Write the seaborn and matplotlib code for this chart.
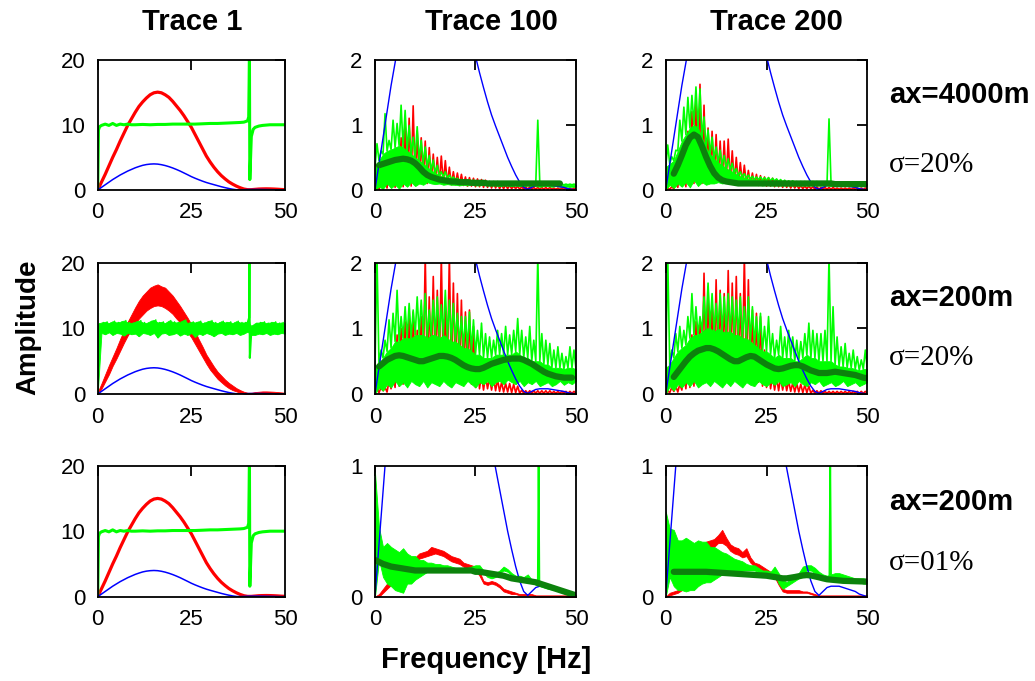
import numpy as np
import matplotlib
matplotlib.use("Agg")
import matplotlib.pyplot as plt
import seaborn as sns

# frequency grid of the spectra (Hz)
freq = list(range(51))

# source spectrum (blue), same in every panel
blue = [0, 0.4, 0.8, 1.2, 1.6, 1.95, 2.3, 2.6, 2.9, 3.15, 3.4, 3.6, 3.78, 3.9, 3.97, 4.0,
        3.97, 3.88, 3.75, 3.58, 3.38, 3.15, 2.9, 2.62, 2.34, 2.05, 1.8, 1.57, 1.35, 1.15, 0.98,
        0.82, 0.66, 0.5, 0.36, 0.23, 0.12, 0.04, 0.01, 0.04, 0.07, 0.08, 0.08, 0.08, 0.07,
        0.06, 0.05, 0.04, 0.02, 0.01, 0]

# ---- Trace 1 ----
t1_red = [0, 1.2, 2.4, 3.7, 5.0, 6.2, 7.5, 8.7, 9.9, 10.9, 11.9, 12.8, 13.5, 14.1, 14.6, 14.9,
          15.0, 14.9, 14.6, 14.2, 13.6, 12.9, 12.2, 11.4, 10.5, 9.6, 8.5, 7.4, 6.3, 5.2, 4.3,
          3.5, 2.8, 2.2, 1.7, 1.25, 0.9, 0.6, 0.35, 0.15, 0.05, 0.05, 0.1, 0.15, 0.17, 0.18,
          0.17, 0.15, 0.12, 0.08, 0.05]
t1_green_f = [0, 0.2, 0.5, 1, 2, 3, 4, 5, 6, 7, 8, 9, 10, 12, 14, 16, 18, 20, 22, 24, 26, 28,
              30, 32, 34, 36, 38, 39, 40, 40.3, 40.5, 40.6, 41, 41.5, 42, 43, 44, 46, 48, 50]
t1_green = [0, 9.2, 9.7, 9.9, 10.1, 9.9, 10.2, 9.9, 10.1, 10.0, 10.1, 10.0, 10.0, 10.05, 10.0,
            10.05, 10.05, 10.1, 10.1, 10.1, 10.1, 10.15, 10.2, 10.2, 10.25, 10.3, 10.35, 10.4,
            10.6, 11.2, 20.5, 1.6, 8.2, 9.3, 9.6, 9.8, 9.9, 10.0, 10.0, 10.0]
t1_r2_red_hi = [0.3, 1.6, 3.0, 4.4, 5.7, 7.0, 8.4, 9.7, 11.0, 12.1, 13.2, 14.2, 15.0, 15.6, 16.2,
                16.5, 16.7, 16.4, 16.2, 15.6, 15.0, 14.2, 13.4, 12.5, 11.6, 10.6, 9.5, 8.3, 7.2,
                6.0, 5.1, 4.2, 3.4, 2.8, 2.2, 1.7, 1.3, 0.9, 0.6, 0.35, 0.2, 0.2, 0.3, 0.35, 0.4,
                0.4, 0.38, 0.35, 0.3, 0.25, 0.2]
t1_r2_red_lo = [0, 0.8, 1.9, 3.0, 4.3, 5.4, 6.6, 7.8, 8.9, 9.8, 10.7, 11.5, 12.1, 12.7, 13.1,
                13.4, 13.5, 13.4, 13.1, 12.7, 12.2, 11.5, 10.9, 10.2, 9.4, 8.6, 7.6, 6.6, 5.6,
                4.6, 3.7, 3.0, 2.3, 1.8, 1.3, 0.9, 0.6, 0.4, 0.2, 0.05, 0, 0, 0.02, 0.05, 0.05,
                0.05, 0.05, 0.04, 0.03, 0.02, 0.01]
t1_r2_green_hi = [10.7, 10.9, 11.0, 10.8, 11.1, 10.9, 11.0, 11.2, 10.9, 10.8, 11.0, 11.2, 10.9,
                  10.8, 11.1, 11.3, 10.9, 11.0, 10.8, 11.2, 11.0, 10.9, 11.0, 11.3, 10.8, 11.0,
                  10.9, 11.1, 10.8, 11.0, 11.2, 10.9, 10.8, 11.1, 10.9, 11.0, 10.8, 11.1, 10.9,
                  10.9, 11.0, 10.4, 10.8, 10.9, 11.0, 10.8, 10.9, 11.0, 10.8, 10.9, 10.8]
t1_r2_green_lo = [0, 9.3, 9.1, 9.4, 9.0, 9.3, 9.2, 8.9, 9.3, 9.1, 9.2, 8.8, 9.3, 9.2, 9.0, 9.3,
                  8.6, 9.2, 9.3, 9.0, 9.1, 9.3, 8.9, 9.2, 9.0, 9.3, 8.7, 9.2, 9.0, 9.3, 9.1, 8.8,
                  9.2, 9.3, 9.0, 9.2, 9.1, 9.3, 9.0, 9.2, 9.5, 9.0, 9.0, 9.2, 9.1, 9.3, 9.0, 9.2,
                  9.1, 9.3, 9.2]
# narrow artefact spike near 40.5 Hz
t1_r2_spike_f = [40.0, 40.4, 40.5, 40.6, 41.0]
t1_r2_spike = [10.8, 11.6, 20.5, 5.5, 9.6]

# ---- Trace 100, ax=4000m, sigma=20% ----
a_green_hi = [0.71, 0.6, 1.17, 0.76, 1.07, 1.02, 1.3, 1.22, 0.99, 0.81, 0.97, 0.76, 0.66, 0.53,
              0.46, 0.38, 0.28, 0.28, 0.23, 0.2, 0.18, 0.16, 0.15, 0.15, 0.15, 0.14, 0.14, 0.13,
              0.13, 0.13, 0.13, 0.12, 0.12, 0.12, 0.12, 0.11, 0.11, 0.11, 0.11, 0.11, 1.07, 0.11,
              0.1, 0.1, 0.1, 0.1, 0.09, 0.09, 0.09, 0.09, 0.09]
a_green_core = [0.35, 0.45, 0.55, 0.6, 0.62, 0.65, 0.68, 0.65, 0.6, 0.55, 0.5, 0.45, 0.4, 0.35,
                0.3, 0.26, 0.22, 0.2, 0.18, 0.16, 0.15, 0.14, 0.13, 0.13, 0.12, 0.12, 0.12, 0.12,
                0.11, 0.11, 0.11, 0.11, 0.11, 0.1, 0.1, 0.1, 0.1, 0.1, 0.1, 0.1, 0.1, 0.1, 0.09,
                0.09, 0.09, 0.09, 0.08, 0.08, 0.08, 0.08, 0.08]
a_green_lo = [0, 0.05, 0.02, 0.1, 0.03, 0.08, 0.02, 0.1, 0.05, 0.12, 0.06, 0.1, 0.08, 0.12, 0.1,
              0.09, 0.1, 0.08, 0.09, 0.08, 0.08, 0.07, 0.08, 0.07, 0.08, 0.07, 0.07, 0.08, 0.07,
              0.07, 0.07, 0.06, 0.07, 0.07, 0.06, 0.07, 0.06, 0.06, 0.07, 0.06, 0.06, 0.05, 0.06,
              0.06, 0.05, 0.06, 0.05, 0.05, 0.05, 0.05, 0.05]
a_red_hi = [0.05, 0.1, 0.15, 0.3, 0.5, 0.6, 0.8, 1.0, 1.1, 1.29, 0.9, 0.8, 0.75, 0.65, 0.55, 0.5,
            0.52, 0.45, 0.35, 0.28, 0.26, 0.24, 0.2, 0.19, 0.18, 0.17, 0.16, 0.15, 0.13, 0.12,
            0.1, 0.08, 0.08, 0.07, 0.06, 0.06, 0.05, 0.05, 0.05, 0.04, 0.04, 0.04, 0.04, 0.04,
            0.03, 0.03, 0.03, 0.03, 0.03, 0.03, 0.03]
a_red_lo = [0, 0.01, 0.02, 0.03, 0.05, 0.04, 0.06, 0.05, 0.08, 0.06, 0.1, 0.1, 0.12, 0.1, 0.12,
            0.11, 0.1, 0.1, 0.09, 0.08, 0.08, 0.07, 0.07, 0.06, 0.06, 0.05, 0.05, 0.04, 0.04,
            0.03, 0.03, 0.02, 0.02, 0.02, 0.02, 0.02, 0.01, 0.01, 0.01, 0.01, 0.01, 0.01, 0.01,
            0.01, 0.01, 0.01, 0.01, 0.01, 0.01, 0.01, 0.01]
a_smooth_f = list(range(1, 47))
a_smooth = [0.38, 0.4, 0.42, 0.44, 0.46, 0.47, 0.48, 0.47, 0.45, 0.41, 0.35, 0.28, 0.23, 0.2,
            0.18, 0.16, 0.15, 0.14, 0.13, 0.13, 0.12, 0.12, 0.12, 0.11, 0.11, 0.11, 0.11, 0.1,
            0.1, 0.1, 0.1, 0.1, 0.1, 0.1, 0.1, 0.1, 0.1, 0.1, 0.1, 0.1, 0.1, 0.1, 0.1, 0.1, 0.1,
            0.1]

# ---- Trace 200, ax=4000m, sigma=20% ----
b_green_hi = [0.69, 0.51, 0.61, 1.07, 1.27, 1.42, 1.45, 1.58, 1.55, 1.12, 0.92, 0.81, 0.66, 0.61,
              0.53, 0.48, 0.41, 0.33, 0.28, 0.25, 0.23, 0.21, 0.2, 0.2, 0.19, 0.19, 0.18, 0.17,
              0.16, 0.15, 0.14, 0.14, 0.13, 0.13, 0.13, 0.13, 0.13, 0.13, 0.12, 0.12, 1.09, 0.12,
              0.12, 0.11, 0.11, 0.11, 0.11, 0.11, 0.11, 0.11, 0.11]
b_green_core = [0.35, 0.4, 0.45, 0.6, 0.75, 0.85, 0.95, 1.0, 0.95, 0.8, 0.65, 0.55, 0.48, 0.42,
                0.38, 0.33, 0.3, 0.26, 0.22, 0.2, 0.18, 0.17, 0.16, 0.16, 0.15, 0.15, 0.14, 0.14,
                0.13, 0.12, 0.12, 0.12, 0.11, 0.11, 0.11, 0.11, 0.11, 0.11, 0.1, 0.1, 0.1, 0.1,
                0.1, 0.1, 0.1, 0.1, 0.1, 0.1, 0.1, 0.1, 0.1]
b_green_lo = [0, 0.08, 0.03, 0.1, 0.05, 0.12, 0.04, 0.15, 0.06, 0.12, 0.08, 0.1, 0.1, 0.12, 0.1,
              0.11, 0.1, 0.1, 0.09, 0.09, 0.08, 0.08, 0.08, 0.08, 0.07, 0.08, 0.07, 0.07, 0.07,
              0.07, 0.07, 0.07, 0.07, 0.07, 0.07, 0.07, 0.07, 0.07, 0.07, 0.07, 0.07, 0.06, 0.07,
              0.07, 0.07, 0.07, 0.07, 0.07, 0.07, 0.07, 0.07]
b_red_hi = [0.03, 0.05, 0.1, 0.3, 0.6, 0.9, 1.2, 1.4, 1.62, 1.3, 0.95, 0.9, 0.85, 0.75, 0.75,
            0.78, 0.6, 0.5, 0.42, 0.38, 0.3, 0.26, 0.24, 0.22, 0.2, 0.19, 0.18, 0.16, 0.14, 0.12,
            0.1, 0.09, 0.08, 0.07, 0.06, 0.06, 0.05, 0.05, 0.04, 0.04, 0.04, 0.04, 0.03, 0.03,
            0.03, 0.03, 0.03, 0.03, 0.03, 0.03, 0.03]
b_red_lo = [0, 0.01, 0.02, 0.04, 0.06, 0.05, 0.08, 0.1, 0.12, 0.1, 0.12, 0.13, 0.12, 0.14, 0.12,
            0.13, 0.12, 0.11, 0.1, 0.1, 0.09, 0.08, 0.08, 0.07, 0.07, 0.06, 0.06, 0.05, 0.05,
            0.04, 0.04, 0.03, 0.03, 0.02, 0.02, 0.02, 0.02, 0.01, 0.01, 0.01, 0.01, 0.01, 0.01,
            0.01, 0.01, 0.01, 0.01, 0.01, 0.01, 0.01, 0.01]
b_smooth_f = list(range(2, 51))
b_smooth = [0.25, 0.38, 0.53, 0.69, 0.8, 0.85, 0.81, 0.67, 0.51, 0.37, 0.26, 0.19, 0.15, 0.13,
            0.12, 0.11, 0.1, 0.1, 0.1, 0.1, 0.1, 0.1, 0.1, 0.1, 0.1, 0.1, 0.1, 0.1, 0.1, 0.1,
            0.1, 0.1, 0.1, 0.1, 0.1, 0.1, 0.1, 0.1, 0.1, 0.1, 0.09, 0.09, 0.09, 0.09, 0.09,
            0.09, 0.09, 0.09, 0.09]

# ---- Trace 100, ax=200m, sigma=20% ----
c_green_hi = [2.1, 0.67, 0.82, 1.13, 1.23, 1.58, 1.18, 1.33, 1.38, 1.28, 1.48, 1.43, 1.53, 1.28,
              1.43, 1.48, 1.36, 1.58, 1.43, 1.38, 1.23, 1.18, 1.18, 1.25, 1.13, 0.97, 1.08, 0.92,
              0.87, 0.82, 0.97, 0.92, 1.03, 0.9, 0.97, 1.15, 0.97, 0.87, 1.03, 0.82, 2.1, 0.92,
              0.82, 0.77, 0.67, 0.72, 0.62, 0.57, 0.72, 0.67, 0.62]
c_green_core = [0.4, 0.45, 0.55, 0.65, 0.7, 0.8, 0.8, 0.85, 0.85, 0.85, 0.9, 0.9, 0.9, 0.85, 0.9,
                0.9, 0.85, 0.9, 0.85, 0.8, 0.8, 0.75, 0.7, 0.7, 0.65, 0.6, 0.6, 0.55, 0.55, 0.55,
                0.6, 0.6, 0.6, 0.6, 0.6, 0.65, 0.6, 0.55, 0.55, 0.5, 0.5, 0.5, 0.45, 0.45, 0.4,
                0.4, 0.4, 0.38, 0.4, 0.4, 0.38]
c_green_lo = [0, 0.1, 0.05, 0.15, 0.1, 0.2, 0.12, 0.18, 0.1, 0.2, 0.15, 0.12, 0.2, 0.1, 0.18,
              0.15, 0.12, 0.2, 0.14, 0.1, 0.18, 0.15, 0.12, 0.2, 0.15, 0.1, 0.18, 0.15, 0.2,
              0.12, 0.18, 0.2, 0.15, 0.22, 0.18, 0.15, 0.2, 0.12, 0.18, 0.15, 0.2, 0.12, 0.15,
              0.18, 0.12, 0.15, 0.2, 0.14, 0.18, 0.15, 0.2]
c_red_hi = [0.1, 0.1, 0.1, 0.2, 0.3, 0.9, 1.0, 1.1, 1.25, 1.25, 0.97, 1.18, 2.1, 1.48, 1.79, 1.58,
            2.1, 1.33, 2.1, 1.69, 1.53, 1.43, 1.25, 1.28, 1.03, 0.52, 0.3, 0.28, 0.25, 0.25,
            0.22, 0.18, 0.16, 0.16, 0.15, 0.12, 0.06, 0.05, 0.05, 0.05, 0.05, 0.05, 0.05, 0.05,
            0.04, 0.04, 0.04, 0.04, 0.04, 0.04, 0.04]
c_red_lo = [0, 0.02, 0.05, 0.03, 0.08, 0.1, 0.12, 0.15, 0.2, 0.25, 0.2, 0.3, 0.25, 0.3, 0.35,
            0.3, 0.3, 0.35, 0.3, 0.25, 0.3, 0.25, 0.2, 0.2, 0.15, 0.1, 0.08, 0.06, 0.08, 0.06,
            0.05, 0.04, 0.03, 0.03, 0.02, 0.02, 0.01, 0.01, 0.01, 0.01, 0.01, 0.01, 0.01, 0.01,
            0.01, 0.01, 0.01, 0.01, 0.01, 0.01, 0.01]
c_smooth_f = list(range(1, 50))
c_smooth = [0.42, 0.47, 0.52, 0.55, 0.58, 0.59, 0.58, 0.56, 0.54, 0.52, 0.5, 0.5, 0.52, 0.54,
            0.56, 0.58, 0.58, 0.57, 0.55, 0.52, 0.48, 0.44, 0.41, 0.39, 0.38, 0.38, 0.4, 0.43,
            0.46, 0.48, 0.5, 0.52, 0.53, 0.54, 0.54, 0.54, 0.52, 0.49, 0.46, 0.42, 0.38, 0.34,
            0.31, 0.29, 0.27, 0.26, 0.25, 0.25, 0.25]

# ---- Trace 200, ax=200m, sigma=20% ----
d_green_hi = [2.1, 0.67, 0.92, 1.03, 0.97, 1.18, 1.53, 1.33, 1.18, 1.48, 1.69, 1.53, 1.38, 1.53,
              1.48, 1.53, 1.48, 1.43, 1.48, 1.33, 1.48, 1.33, 1.18, 1.23, 1.03, 1.18, 0.92, 0.82,
              1.03, 0.87, 0.97, 0.87, 0.82, 0.8, 0.92, 1.08, 0.97, 0.92, 0.92, 0.97, 2.1, 1.33,
              0.87, 0.72, 0.77, 0.62, 0.67, 0.57, 0.52, 0.67, 0.62]
d_green_core = [0.4, 0.45, 0.55, 0.65, 0.7, 0.75, 0.85, 0.9, 0.9, 0.95, 1.0, 1.0, 0.95, 1.0, 0.95,
                0.95, 0.95, 0.9, 0.9, 0.85, 0.85, 0.8, 0.75, 0.7, 0.65, 0.65, 0.6, 0.55, 0.6,
                0.55, 0.55, 0.55, 0.5, 0.5, 0.55, 0.6, 0.55, 0.55, 0.5, 0.5, 0.5, 0.5, 0.45, 0.42,
                0.42, 0.4, 0.4, 0.38, 0.36, 0.38, 0.38]
d_green_lo = [0, 0.12, 0.05, 0.15, 0.1, 0.18, 0.12, 0.2, 0.1, 0.15, 0.18, 0.12, 0.2, 0.15, 0.1,
              0.18, 0.12, 0.2, 0.15, 0.1, 0.18, 0.14, 0.12, 0.2, 0.15, 0.12, 0.18, 0.14, 0.2,
              0.12, 0.15, 0.18, 0.12, 0.2, 0.15, 0.12, 0.18, 0.15, 0.2, 0.12, 0.15, 0.18, 0.12,
              0.15, 0.2, 0.12, 0.15, 0.18, 0.12, 0.15, 0.18]
d_red_hi = [0.05, 0.1, 0.12, 0.15, 0.3, 0.5, 0.9, 1.1, 1.15, 1.84, 1.63, 1.43, 1.74, 1.58, 1.53,
            1.88, 1.69, 1.79, 1.53, 2.1, 1.74, 1.28, 1.23, 1.18, 0.67, 0.42, 0.28, 0.26, 0.25,
            0.24, 0.2, 0.17, 0.16, 0.15, 0.14, 0.12, 0.06, 0.05, 0.05, 0.04, 0.04, 0.04, 0.04,
            0.04, 0.04, 0.04, 0.04, 0.04, 0.04, 0.04, 0.04]
d_red_lo = [0, 0.02, 0.04, 0.03, 0.06, 0.08, 0.1, 0.12, 0.15, 0.2, 0.25, 0.3, 0.28, 0.32, 0.3,
            0.35, 0.3, 0.32, 0.28, 0.3, 0.25, 0.22, 0.2, 0.18, 0.12, 0.1, 0.08, 0.06, 0.05, 0.06,
            0.05, 0.04, 0.03, 0.03, 0.02, 0.02, 0.01, 0.01, 0.01, 0.01, 0.01, 0.01, 0.01, 0.01,
            0.01, 0.01, 0.01, 0.01, 0.01, 0.01, 0.01]
d_smooth_f = list(range(2, 51))
d_smooth = [0.26, 0.34, 0.42, 0.5, 0.57, 0.62, 0.66, 0.68, 0.7, 0.7, 0.68, 0.65, 0.61, 0.57, 0.53,
            0.5, 0.5, 0.53, 0.56, 0.58, 0.57, 0.53, 0.49, 0.45, 0.42, 0.39, 0.38, 0.39, 0.41,
            0.43, 0.44, 0.44, 0.42, 0.39, 0.36, 0.34, 0.32, 0.32, 0.32, 0.33, 0.34, 0.33, 0.32,
            0.31, 0.3, 0.29, 0.27, 0.25, 0.24]

# ---- Trace 100, ax=200m, sigma=01% ----
e_green_hi = [0.95, 0.53, 0.38, 0.41, 0.38, 0.36, 0.34, 0.37, 0.33, 0.31, 0.31, 0.28, 0.28, 0.26,
              0.26, 0.25, 0.25, 0.24, 0.24, 0.23, 0.22, 0.22, 0.22, 0.22, 0.23, 0.24, 0.24, 0.2,
              0.17, 0.16, 0.18, 0.2, 0.23, 0.21, 0.18, 0.16, 0.16, 0.15, 0.17, 0.13, 0.1, 0.09,
              0.08, 0.07, 0.065, 0.06, 0.05, 0.04, 0.03, 0.02, 0.015]
e_green_lo = [0, 0.28, 0.15, 0.1, 0.08, 0.05, 0.04, 0.03, 0.1, 0.1, 0.13, 0.15, 0.17, 0.19, 0.2,
              0.2, 0.2, 0.2, 0.2, 0.2, 0.2, 0.2, 0.2, 0.2, 0.21, 0.22, 0.21, 0.18, 0.15, 0.14,
              0.15, 0.18, 0.2, 0.19, 0.16, 0.14, 0.14, 0.13, 0.14, 0.11, 0.09, 0.08, 0.07, 0.06,
              0.055, 0.05, 0.04, 0.03, 0.02, 0.015, 0.01]
e_spike_f = [40.5, 40.7, 40.9]
e_spike = [0.1, 1.05, 0.09]
e_red_hi = [0, 0.02, 0.06, 0.1, 0.13, 0.16, 0.19, 0.22, 0.26, 0.29, 0.3, 0.33, 0.34, 0.35, 0.38,
            0.37, 0.36, 0.35, 0.33, 0.31, 0.3, 0.29, 0.26, 0.25, 0.24, 0.23, 0.19, 0.12, 0.11,
            0.12, 0.11, 0.09, 0.06, 0.05, 0.04, 0.03, 0.02, 0.02, 0.02, 0.02, 0.01, 0.01, 0.01,
            0.01, 0.01, 0.01, 0.01, 0.01, 0.01, 0.01, 0.01]
e_red_lo = [0, 0.0, 0.03, 0.06, 0.09, 0.12, 0.15, 0.18, 0.22, 0.25, 0.26, 0.29, 0.3, 0.31, 0.32,
            0.33, 0.32, 0.31, 0.29, 0.27, 0.26, 0.25, 0.23, 0.21, 0.2, 0.2, 0.16, 0.1, 0.09, 0.1,
            0.09, 0.07, 0.04, 0.03, 0.02, 0.02, 0.01, 0.01, 0.01, 0.01, 0.0, 0.0, 0.0, 0.0, 0.0,
            0.0, 0.0, 0.0, 0.0, 0.0, 0.0]
e_smooth_f = list(range(0, 51))
e_smooth = [0.28, 0.265, 0.25, 0.24, 0.23, 0.225, 0.22, 0.215, 0.21, 0.205, 0.2, 0.2, 0.2, 0.2,
            0.2, 0.2, 0.2, 0.2, 0.2, 0.2, 0.2, 0.2, 0.2, 0.2, 0.2, 0.19, 0.19, 0.185, 0.18,
            0.175, 0.17, 0.165, 0.16, 0.15, 0.14, 0.135, 0.13, 0.125, 0.12, 0.115, 0.11, 0.1,
            0.09, 0.08, 0.07, 0.06, 0.05, 0.04, 0.03, 0.02, 0.01]

# ---- Trace 200, ax=200m, sigma=01% ----
f_green_hi = [0.65, 0.52, 0.51, 0.43, 0.43, 0.45, 0.43, 0.41, 0.43, 0.42, 0.42, 0.38, 0.38, 0.36,
              0.34, 0.33, 0.31, 0.29, 0.28, 0.27, 0.25, 0.24, 0.24, 0.22, 0.2, 0.2, 0.19, 0.23,
              0.18, 0.13, 0.11, 0.14, 0.15, 0.18, 0.23, 0.24, 0.24, 0.22, 0.19, 0.17, 0.16, 0.17,
              0.18, 0.18, 0.17, 0.16, 0.15, 0.14, 0.14, 0.14, 0.13]
f_green_lo = [0, 0.15, 0.08, 0.05, 0.05, 0.04, 0.05, 0.05, 0.08, 0.1, 0.11, 0.11, 0.13, 0.15,
              0.17, 0.18, 0.19, 0.2, 0.2, 0.2, 0.2, 0.2, 0.2, 0.19, 0.18, 0.17, 0.16, 0.18, 0.1,
              0.06, 0.08, 0.1, 0.12, 0.14, 0.18, 0.2, 0.2, 0.18, 0.16, 0.14, 0.13, 0.14, 0.15,
              0.14, 0.14, 0.13, 0.12, 0.12, 0.11, 0.1, 0.1]
f_spike_f = [40.6, 40.8, 41.0]
f_spike = [0.16, 1.05, 0.17]
f_red_hi = [0, 0.03, 0.04, 0.05, 0.08, 0.13, 0.18, 0.25, 0.31, 0.36, 0.42, 0.43, 0.44, 0.47, 0.51,
            0.45, 0.4, 0.38, 0.37, 0.34, 0.37, 0.3, 0.26, 0.25, 0.23, 0.21, 0.19, 0.18, 0.12,
            0.06, 0.05, 0.05, 0.05, 0.05, 0.04, 0.04, 0.03, 0.02, 0.01, 0.01, 0.01, 0.01, 0.01,
            0.01, 0.01, 0.01, 0.01, 0.01, 0.01, 0.01, 0.01]
f_red_lo = [0, 0.01, 0.02, 0.03, 0.05, 0.09, 0.14, 0.2, 0.26, 0.31, 0.36, 0.37, 0.38, 0.41, 0.41,
            0.39, 0.35, 0.33, 0.32, 0.3, 0.31, 0.26, 0.23, 0.22, 0.2, 0.18, 0.16, 0.15, 0.09,
            0.04, 0.03, 0.03, 0.03, 0.03, 0.03, 0.03, 0.02, 0.01, 0.0, 0.0, 0.0, 0.0, 0.0, 0.0,
            0.0, 0.0, 0.0, 0.0, 0.0, 0.0, 0.0]
f_smooth_f = list(range(2, 51))
f_smooth = [0.19, 0.19, 0.19, 0.19, 0.19, 0.19, 0.19, 0.19, 0.19, 0.188, 0.186, 0.184, 0.182,
            0.18, 0.178, 0.176, 0.174, 0.172, 0.17, 0.168, 0.166, 0.164, 0.162, 0.16, 0.155,
            0.15, 0.145, 0.14, 0.14, 0.145, 0.15, 0.156, 0.162, 0.165, 0.162, 0.155, 0.148,
            0.14, 0.133, 0.13, 0.127, 0.124, 0.121, 0.12, 0.119, 0.118, 0.117, 0.116, 0.115]

titles = ["Trace 1", "Trace 100", "Trace 200"]
row_labels = [("ax=4000m", "σ=20%"), ("ax=200m", "σ=20%"), ("ax=200m", "σ=01%")]

RED, GREEN, BLUE, DKGREEN = "#ff0000", "#00ff00", "#0000ff", "#0c820c"


def zigzag(lo, hi):
    # alternate trough / peak values half a bin apart so the trace reads as noise
    f = np.asarray(freq, dtype=float)
    x = np.column_stack([f, f + 0.5]).ravel()
    y = np.column_stack([lo, hi]).ravel()
    return x, y


def line(ax, x, y, color, lw, z):
    sns.lineplot(x=np.asarray(x, float), y=np.asarray(y, float), ax=ax, color=color,
                 linewidth=lw, estimator=None, sort=False, zorder=z)


def band(ax, lo, hi, color, z, lw=0.6):
    ax.fill_between(freq, lo, hi, facecolor=color, edgecolor=color, linewidth=lw, zorder=z)


def style_axis(ax, ymax, yticks):
    ax.set_xlim(0, 50)
    ax.set_ylim(0, ymax)
    ax.set_xticks([0, 25, 50])
    ax.set_yticks(yticks)
    ax.set_xlabel("")
    ax.set_ylabel("")
    ax.tick_params(direction="in", length=7, width=1.3, top=True, right=True,
                   labelsize=16, pad=9, colors="black")
    for s in ax.spines.values():
        s.set_linewidth(1.3)
        s.set_color("black")
        s.set_zorder(10)


if __name__ == "__main__":
    sns.set_style("white")
    plt.rcParams["font.family"] = ["Liberation Sans", "DejaVu Sans"]
    plt.rcParams["text.color"] = "black"

    fig = plt.figure(figsize=(10.35, 6.81), dpi=100)
    lefts = [0.0944, 0.3623, 0.6432]
    widths = [0.181, 0.1942, 0.1948]
    bottoms = [0.721, 0.4214, 0.1238]
    heights = [0.1916, 0.1928, 0.1924]

    # panels with strong noise: dense core + spikes
    spiky = {
        (0, 1): (a_red_lo, a_red_hi, a_green_lo, a_green_core, a_green_hi, a_smooth_f, a_smooth),
        (0, 2): (b_red_lo, b_red_hi, b_green_lo, b_green_core, b_green_hi, b_smooth_f, b_smooth),
        (1, 1): (c_red_lo, c_red_hi, c_green_lo, c_green_core, c_green_hi, c_smooth_f, c_smooth),
        (1, 2): (d_red_lo, d_red_hi, d_green_lo, d_green_core, d_green_hi, d_smooth_f, d_smooth),
    }
    # panels with weak noise: narrow bands
    calm = {
        (2, 1): (e_red_lo, e_red_hi, e_green_lo, e_green_hi, e_spike_f, e_spike,
                 e_smooth_f, e_smooth),
        (2, 2): (f_red_lo, f_red_hi, f_green_lo, f_green_hi, f_spike_f, f_spike,
                 f_smooth_f, f_smooth),
    }

    for r in range(3):
        for c in range(3):
            ax = fig.add_axes([lefts[c], bottoms[r], widths[c], heights[r]])
            if c == 0:
                if r == 1:
                    band(ax, t1_r2_red_lo, t1_r2_red_hi, RED, 1)
                    band(ax, t1_r2_green_lo, t1_r2_green_hi, GREEN, 2)
                    x, y = zigzag(t1_r2_green_lo, t1_r2_green_hi)
                    line(ax, x, y, GREEN, 1.0, 2.1)
                    line(ax, t1_r2_spike_f, t1_r2_spike, GREEN, 1.5, 2.2)
                else:
                    line(ax, freq, t1_red, RED, 2.3, 1)
                    line(ax, t1_green_f, t1_green, GREEN, 2.2, 2)
                line(ax, freq, blue, BLUE, 1.1, 3)
                style_axis(ax, 20, [0, 10, 20])
            elif r < 2:
                rlo, rhi, glo, gcore, ghi, sf, sv = spiky[(r, c)]
                x, y = zigzag(rlo, rhi)
                line(ax, x, y, RED, 1.2, 1)
                band(ax, glo, gcore, GREEN, 2)
                x, y = zigzag(gcore, ghi)
                line(ax, x, y, GREEN, 1.2, 2.1)
                line(ax, freq, blue, BLUE, 1.0, 3)
                line(ax, sf, sv, DKGREEN, 4.5, 4)
                style_axis(ax, 2, [0, 1, 2])
            else:
                rlo, rhi, glo, ghi, spf, spv, sf, sv = calm[(r, c)]
                band(ax, rlo, rhi, RED, 1)
                band(ax, glo, ghi, GREEN, 2)
                line(ax, spf, spv, GREEN, 1.3, 2.1)
                line(ax, freq, blue, BLUE, 1.0, 3)
                line(ax, sf, sv, DKGREEN, 4.5, 4)
                style_axis(ax, 1, [0, 1])

    # column titles
    for cx, t in zip([192, 491, 776], titles):
        fig.text(cx / 1035, 1 - 22 / 681, t, ha="center", va="center",
                 fontsize=21, fontweight="bold", color="black")

    # row annotations on the right
    for (ty, sy), (ax_lab, sig) in zip([(95, 165), (298, 358), (502, 563)], row_labels):
        fig.text(889 / 1035, 1 - ty / 681, ax_lab, ha="left", va="center",
                 fontsize=21, fontweight="bold", color="black")
        fig.text(889 / 1035, 1 - sy / 681, sig, ha="left", va="center", color="black",
                 fontsize=21, family=["Liberation Serif", "DejaVu Serif"])

    fig.text(28 / 1035, 1 - 327 / 681, "Amplitude", rotation=90, ha="center", va="center",
             fontsize=20, fontweight="bold", color="black")
    fig.text(486 / 1035, 1 - 660 / 681, "Frequency [Hz]", ha="center", va="center",
             fontsize=21, fontweight="bold", color="black")

    fig.savefig("out.png", dpi=100)
